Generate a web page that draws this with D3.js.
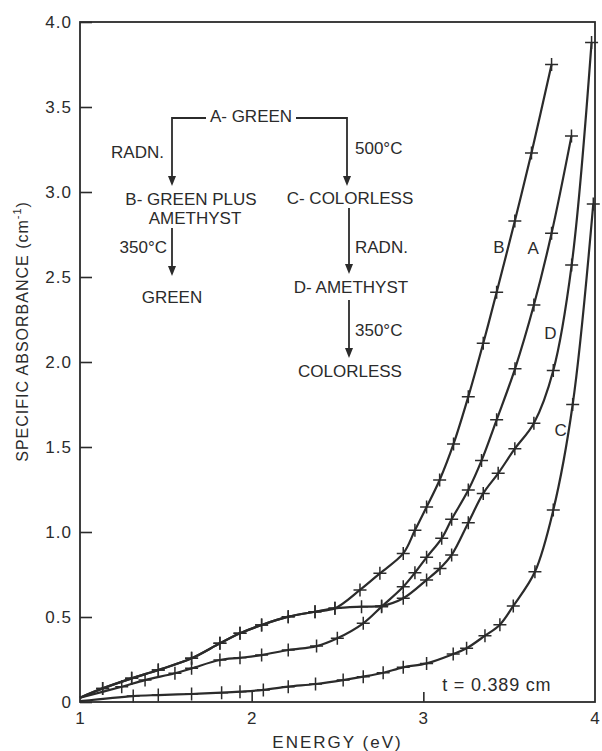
<!DOCTYPE html>
<html>
<head>
<meta charset="utf-8">
<script src="https://cdnjs.cloudflare.com/ajax/libs/d3/7.8.5/d3.min.js"></script>
<style>
  body { margin: 0; background: #fff; }
  text { font-family: "Liberation Sans", Arial, sans-serif; fill: #2b2b2b; }
</style>
</head>
<body>
<div id="vis"></div>
<script>
const margin = { top: 22, right: 7, bottom: 49, left: 80 };
const width = 602 - margin.left - margin.right;
const height = 751 - margin.top - margin.bottom;
const ink = '#2b2b2b';

// values (energy in eV, specific absorbance in cm^-1)
const energyA = [1.0, 1.243, 1.379, 1.553, 1.65, 1.815, 1.932, 2.058, 2.213, 2.378, 2.499, 2.65, 2.757, 2.883, 2.951, 3.019, 3.107, 3.165, 3.262, 3.339, 3.427, 3.534, 3.644, 3.747, 3.863];
const absA = [0.025, 0.09, 0.129, 0.169, 0.198, 0.247, 0.26, 0.276, 0.306, 0.329, 0.375, 0.463, 0.561, 0.678, 0.76, 0.851, 0.963, 1.075, 1.247, 1.42, 1.66, 1.96, 2.335, 2.757, 3.33];

const energyB = [1.0, 1.132, 1.301, 1.456, 1.65, 1.815, 1.932, 2.058, 2.213, 2.369, 2.485, 2.631, 2.747, 2.883, 2.951, 3.019, 3.095, 3.176, 3.262, 3.349, 3.427, 3.533, 3.63, 3.747];
const absB = [0.025, 0.08, 0.139, 0.188, 0.257, 0.345, 0.404, 0.453, 0.502, 0.531, 0.551, 0.659, 0.757, 0.874, 1.01, 1.147, 1.306, 1.518, 1.796, 2.11, 2.41, 2.83, 3.23, 3.75];

const energyC = [1.0, 1.31, 1.456, 1.65, 1.825, 1.932, 2.068, 2.213, 2.372, 2.533, 2.65, 2.766, 2.883, 3.019, 3.174, 3.252, 3.359, 3.446, 3.524, 3.65, 3.757, 3.87, 3.99];
const absC = [0.005, 0.035, 0.041, 0.047, 0.055, 0.061, 0.071, 0.09, 0.106, 0.129, 0.149, 0.172, 0.204, 0.227, 0.282, 0.316, 0.39, 0.455, 0.565, 0.766, 1.129, 1.75, 2.93];

const energyD = [1.0, 1.132, 1.301, 1.456, 1.65, 1.815, 1.932, 2.058, 2.213, 2.369, 2.485, 2.64, 2.757, 2.883, 3.019, 3.097, 3.165, 3.262, 3.349, 3.436, 3.533, 3.644, 3.757, 3.864, 3.98];
const absD = [0.025, 0.08, 0.139, 0.188, 0.257, 0.345, 0.404, 0.453, 0.502, 0.531, 0.551, 0.561, 0.565, 0.61, 0.718, 0.786, 0.865, 1.055, 1.227, 1.345, 1.49, 1.64, 1.95, 2.57, 3.88];

const curveNames = ['A', 'B', 'C', 'D'];
// where each curve letter sits (energy, absorbance)
const labelPos = { A: [3.64, 2.67], B: [3.44, 2.68], C: [3.80, 1.60], D: [3.74, 2.17] };

const yTicks = [0, 0.5, 1.0, 1.5, 2.0, 2.5, 3.0, 3.5, 4.0];
const yTickLabels = ['0', '0.5', '1.0', '1.5', '2.0', '2.5', '3.0', '3.5', '4.0'];
const xTicks = [1, 2, 3, 4];

const series = {
    A: energyA.map((e, i) => ({ e: e, a: absA[i] })),
    B: energyB.map((e, i) => ({ e: e, a: absB[i] })),
    C: energyC.map((e, i) => ({ e: e, a: absC[i] })),
    D: energyD.map((e, i) => ({ e: e, a: absD[i] }))
};

const svg = d3.select('#vis')
    .append('svg')
    .attr('width', width + margin.left + margin.right)
    .attr('height', height + margin.top + margin.bottom)
    .append('g')
    .attr('transform', `translate(${margin.left},${margin.top})`);

const xScale = d3.scaleLinear().domain([1, 4]).range([0, width]);
const yScale = d3.scaleLinear().domain([0, 4]).range([height, 0]);

// frame
svg.append('rect')
    .attr('width', width).attr('height', height)
    .attr('fill', 'none').attr('stroke', ink).attr('stroke-width', 1.8);

// y axis: inward ticks, labels on the left
const yAxis = svg.append('g')
    .call(d3.axisRight(yScale).tickValues(yTicks).tickSize(12).tickFormat(''));
yAxis.select('.domain').remove();
yAxis.selectAll('line').attr('stroke', ink).attr('stroke-width', 1.6);
svg.selectAll('.ylab')
    .data(yTicks)
    .join('text')
    .attr('class', 'ylab')
    .attr('x', -8)
    .attr('y', d => yScale(d))
    .attr('dy', '0.36em')
    .attr('text-anchor', 'end')
    .style('font-size', '17px')
    .style('letter-spacing', '1px')
    .text((d, i) => yTickLabels[i]);

// x axis: inward ticks at 2 and 3
const xAxis = svg.append('g')
    .attr('transform', `translate(0,${height})`)
    .call(d3.axisTop(xScale).tickValues([2, 3]).tickSize(10).tickFormat(''));
xAxis.select('.domain').remove();
xAxis.selectAll('line').attr('stroke', ink).attr('stroke-width', 1.6);
svg.selectAll('.xlab')
    .data(xTicks)
    .join('text')
    .attr('class', 'xlab')
    .attr('x', d => xScale(d))
    .attr('y', height + 22)
    .attr('text-anchor', 'middle')
    .style('font-size', '17px')
    .text(d => d);

svg.append('text')
    .attr('x', xScale(2.5))
    .attr('y', height + 46)
    .attr('text-anchor', 'middle')
    .style('font-size', '17px')
    .style('letter-spacing', '2px')
    .text('ENERGY (eV)');

svg.append('text')
    .attr('transform', 'rotate(-90)')
    .attr('x', -yScale(2.18))
    .attr('y', -52)
    .attr('text-anchor', 'middle')
    .style('font-size', '16px')
    .style('letter-spacing', '1px')
    .html('SPECIFIC ABSORBANCE (cm<tspan dy="-7" font-size="11px">-1</tspan><tspan dy="7">)</tspan>');

// curves
const line = d3.line()
    .x(d => xScale(d.e))
    .y(d => yScale(d.a))
    .curve(d3.curveCatmullRom.alpha(0.5));

curveNames.forEach(name => {
    svg.append('path')
        .datum(series[name])
        .attr('d', line)
        .attr('fill', 'none')
        .attr('stroke', ink)
        .attr('stroke-width', 2.2);

    svg.selectAll('.mark' + name)
        .data(series[name].slice(1))
        .join('path')
        .attr('class', 'mark' + name)
        .attr('transform', d => `translate(${xScale(d.e)},${yScale(d.a)})`)
        .attr('d', 'M-6.5,0H6.5M0,-6.5V6.5')
        .attr('stroke', ink)
        .attr('stroke-width', 1.5);

    svg.append('text')
        .attr('x', xScale(labelPos[name][0]))
        .attr('y', yScale(labelPos[name][1]))
        .attr('dy', '0.36em')
        .attr('text-anchor', 'middle')
        .style('font-size', '17px')
        .text(name);
});

svg.append('text')
    .attr('x', xScale(3.11))
    .attr('y', yScale(0.065))
    .style('font-size', '18px')
    .style('letter-spacing', '0.8px')
    .text('t = 0.389 cm');

// flow diagram of the treatments (drawn in page pixels)
const note = d3.select('svg').append('g');

function label(x, y, txt, anchor) {
    note.append('text')
        .attr('x', x).attr('y', y)
        .attr('dy', '0.36em')
        .attr('text-anchor', anchor || 'start')
        .style('font-size', '17px')
        .text(txt);
}

function arrow(x, y1, y2) {
    note.append('line')
        .attr('x1', x).attr('x2', x)
        .attr('y1', y1).attr('y2', y2 - 8)
        .attr('stroke', ink).attr('stroke-width', 1.8);
    note.append('path')
        .attr('d', `M${x - 4},${y2 - 10}L${x + 4},${y2 - 10}L${x},${y2}Z`)
        .attr('fill', ink);
}

label(251, 116, 'A- GREEN', 'middle');
note.append('path')
    .attr('d', 'M206,118H172')
    .attr('stroke', ink).attr('stroke-width', 1.8).attr('fill', 'none');
note.append('path')
    .attr('d', 'M296,118H347')
    .attr('stroke', ink).attr('stroke-width', 1.8).attr('fill', 'none');
arrow(172, 117, 186);
arrow(347, 117, 186);
label(164, 152, 'RADN.', 'end');
label(355, 148, '500°C');
label(191, 199, 'B- GREEN PLUS', 'middle');
label(195, 218, 'AMETHYST', 'middle');
label(350, 198, 'C- COLORLESS', 'middle');
arrow(172, 228, 276);
label(167, 247, '350°C', 'end');
label(172, 297, 'GREEN', 'middle');
arrow(349, 208, 274);
label(355, 247, 'RADN.');
label(351, 287, 'D- AMETHYST', 'middle');
arrow(349, 300, 358);
label(355, 330, '350°C');
label(350, 371, 'COLORLESS', 'middle');
</script>
</body>
</html>
